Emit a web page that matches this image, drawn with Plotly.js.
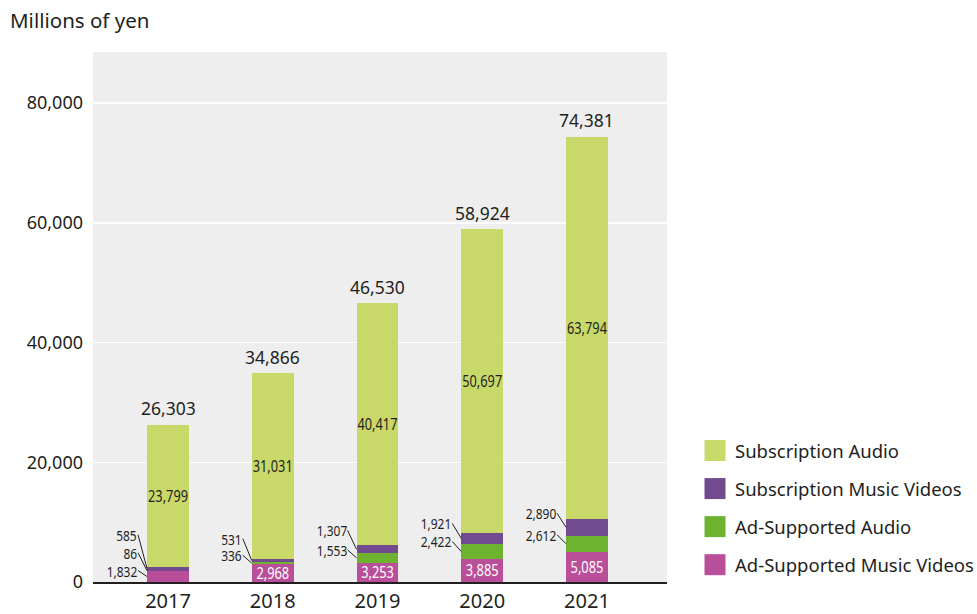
<!DOCTYPE html>
<html>
<head>
<meta charset="utf-8">
<script src="https://cdn.plot.ly/plotly-3.0.1.min.js"></script>
<style>
  html, body { margin: 0; padding: 0; background: #ffffff; }
  #chart { width: 977px; height: 614px; }
</style>
</head>
<body>
<div id="chart"></div>
<script>
// ---- Data (millions of yen) ----
const years = ['2017', '2018', '2019', '2020', '2021'];
const adMusicVideos = [1832, 2968, 3253, 3885, 5085];
const adAudio = [86, 336, 1553, 2422, 2612];
const subMusicVideos = [585, 531, 1307, 1921, 2890];
const subAudio = [23799, 31031, 40417, 50697, 63794];
const totals = [26303, 34866, 46530, 58924, 74381];
const seriesNames = ['Ad-Supported Music Videos', 'Ad-Supported Audio', 'Subscription Music Videos', 'Subscription Audio'];
const yTicks = [0, 20000, 40000, 60000, 80000];

// ---- Styles ----
const colors = ['#b94f98', '#6db32f', '#714a8f', '#c8d96a'];
const legendRanks = [4, 3, 2, 1];
const textColor = '#231f20';
const mainFont = 'Noto Sans, Open Sans, sans-serif';
const narrowFont = 'Noto Sans Narrow, Noto Sans, sans-serif';
const narrowRatio = 0.8;
const barWidth = 0.4;
// pixel offsets of the leader-line labels (layout only)
const subMVLabelDy = [-34, -22, -19, -15, -14];
const adAudioLabelDy = [-18, -8, -8, -10, -9];
const adMVLabelDy = [-6, null, null, null, null];

const xIdx = years.map((_, i) => i);
const fmt = v => v.toLocaleString('en-US');

const series = [adMusicVideos, adAudio, subMusicVideos, subAudio];
const traces = series.map((vals, s) => {
  const t = {
    type: 'bar',
    name: seriesNames[s],
    x: xIdx,
    y: vals,
    width: barWidth,
    marker: { color: colors[s], line: { width: 0 } },
    legendrank: legendRanks[s],
    legendgroup: 'g' + s,
    hoverinfo: 'skip',
    cliponaxis: false
  };
  if (s === 3) {
    t.text = vals.map(fmt);
    t.textposition = 'inside';
    t.insidetextanchor = 'middle';
    t.textangle = 0;
    t.constraintext = 'none';
    t.insidetextfont = { family: narrowFont, size: 16, color: textColor };
  } else if (s === 0) {
    t.text = vals.map((v, i) => adMVLabelDy[i] === null ? fmt(v) : '');
    t.textposition = 'inside';
    t.insidetextanchor = 'middle';
    t.textangle = 0;
    t.constraintext = 'none';
    t.insidetextfont = { family: narrowFont, size: 16, color: '#ffffff' };
  } else {
    t.textposition = 'none';
  }
  return t;
});

const annotations = [];
// totals above bars
totals.forEach((tot, i) => {
  const top = adMusicVideos[i] + adAudio[i] + subMusicVideos[i] + subAudio[i];
  annotations.push({
    x: i, y: top, xref: 'x', yref: 'y',
    text: fmt(tot), showarrow: false,
    yanchor: 'bottom', yshift: 2.5,
    font: { family: mainFont, size: 17.5, color: textColor }
  });
});
// leader-line labels
function leader(i, value, center, dy) {
  annotations.push({
    x: i - barWidth / 2, y: center, xref: 'x', yref: 'y',
    text: fmt(value), showarrow: true,
    arrowhead: 0, arrowwidth: 1, arrowcolor: textColor,
    standoff: 0, startstandoff: 0,
    ax: -9, ay: dy,
    xanchor: 'right', yanchor: 'middle',
    borderpad: 0,
    font: { family: narrowFont, size: 15, color: textColor }
  });
}
years.forEach((_, i) => {
  const b0 = adMusicVideos[i];
  const b1 = b0 + adAudio[i];
  const b2 = b1 + subMusicVideos[i];
  if (adMVLabelDy[i] !== null) leader(i, adMusicVideos[i], b0 / 2, adMVLabelDy[i]);
  leader(i, adAudio[i], (b0 + b1) / 2, adAudioLabelDy[i]);
  leader(i, subMusicVideos[i], (b1 + b2) / 2, subMVLabelDy[i]);
});
// y-axis unit title
annotations.push({
  xref: 'paper', yref: 'paper', x: (8 - 93) / 574, y: 1 + (52 - 20) / 530,
  xanchor: 'left', yanchor: 'middle',
  text: 'Millions of yen', showarrow: false,
  font: { family: mainFont, size: 20.5, color: textColor }
});

const layout = {
  width: 977, height: 614,
  margin: { l: 93, r: 310, t: 52, b: 32, pad: 0, autoexpand: false },
  paper_bgcolor: '#ffffff',
  plot_bgcolor: '#eeeeee',
  barmode: 'stack',
  showlegend: true,
  legend: {
    x: (695 - 93) / 574, xanchor: 'left',
    y: (582 - 432) / 530, yanchor: 'top',
    traceorder: 'grouped',
    tracegroupgap: 11,
    font: { family: mainFont, size: 18.5, color: textColor },
    bgcolor: 'rgba(0,0,0,0)'
  },
  xaxis: {
    type: 'linear',
    range: [-0.716, 4.764],
    tickvals: xIdx,
    ticktext: years,
    showgrid: false,
    zeroline: false,
    showline: true, linecolor: textColor, linewidth: 2,
    ticks: '',
    tickfont: { family: mainFont, size: 20, color: textColor },
    fixedrange: true
  },
  yaxis: {
    range: [0, 88520],
    tickvals: yTicks,
    ticktext: yTicks.map(fmt),
    showgrid: true, gridcolor: '#ffffff', gridwidth: 1.5,
    zeroline: false,
    showline: false,
    ticks: '', ticklen: 0,
    ticklabelstandoff: 9,
    tickfont: { family: mainFont, size: 18, color: textColor },
    fixedrange: true
  },
  annotations: annotations,
  font: { family: mainFont, color: textColor }
};

Plotly.newPlot('chart', traces, layout, { displayModeBar: false, staticPlot: true }).then(gd => {
  // enlarge legend swatches
  gd.querySelectorAll('.legend .legendpoints path').forEach(p => {
    p.setAttribute('transform', (p.getAttribute('transform') || '') + ' scale(1.75)');
  });
  // condensed look for the value labels
  gd.querySelectorAll('text').forEach(t => {
    const st = t.getAttribute('style') || '';
    if (st.indexOf('Narrow') < 0 || !t.textContent) return;
    const w = t.getComputedTextLength();
    t.setAttribute('textLength', (w * narrowRatio).toFixed(2));
    t.setAttribute('lengthAdjust', 'spacingAndGlyphs');
    if (t.classList.contains('annotation-text')) {
      const x = parseFloat(t.getAttribute('x') || '0');
      t.setAttribute('x', (x + w * (1 - narrowRatio) / 2).toFixed(2));
    }
  });
});
</script>
</body>
</html>
